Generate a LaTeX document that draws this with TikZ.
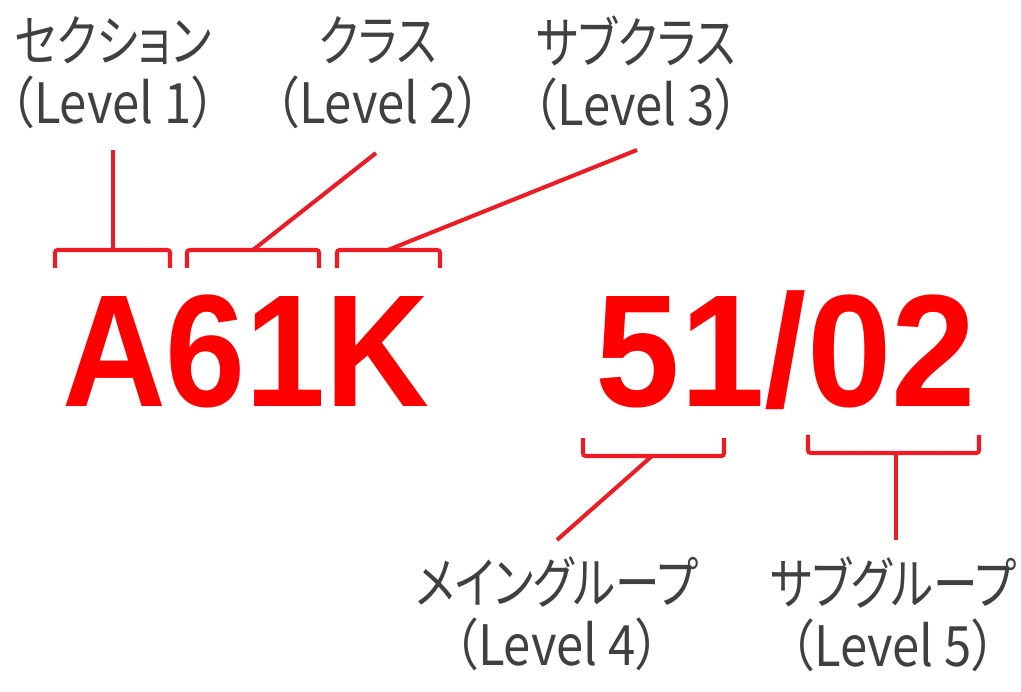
\documentclass[tikz,border=0pt]{standalone}
\usepackage{fontspec}
\setmainfont{Liberation Sans}
\newfontfamily\jpfont[FakeStretch=0.88,RawFeature={+palt}]{Noto Sans CJK JP}
\newfontfamily\kanafont[FakeStretch=0.8,RawFeature={+palt}]{Noto Sans CJK JP}
\newfontfamily\codefont[FakeStretch=0.9]{Liberation Sans Bold}
\newfontfamily\groupfont[FakeStretch=0.95]{Liberation Sans Bold}
\definecolor{linered}{RGB}{237,28,36}
\definecolor{labelgray}{RGB}{64,64,64}
\tikzset{
  level/.style={align=center, text=labelgray, inner sep=0pt,
    font=\jpfont\fontsize{31.7}{35.5}\selectfont},
  code/.style={text=red, inner sep=0pt, anchor=base,
    font=\codefont\fontsize{91}{91}\selectfont},
  brace/.style={draw=linered, line width=2.3pt, rounded corners=1.5pt},
  leader/.style={draw=linered, line width=2.3pt},
}
\begin{document}
\begin{tikzpicture}[x=0.02cm,y=-0.02cm]
  \useasboundingbox (0,0) rectangle (1021,692);
  % symbol
  \node[code] (sym) at (246,407) {A61K};
  \node[code, font=\groupfont\fontsize{91}{91}\selectfont] (grp) at (786,407) {51/02};
  % labels
  \node[level] (sec) at (113,73) {{\kanafont セクション}\\（Level 1）};
  \node[level] (cls) at (378,73) {{\kanafont クラス}\\（Level 2）};
  \node[level] (sub) at (636,73) {{\kanafont サブクラス}\\（Level 3）};
  \node[level] (main) at (557,614) {{\kanafont メイングループ}\\（Level 4）};
  \node[level] (subgrp) at (893,614) {{\kanafont サブグループ}\\（Level 5）};
  % brackets
  \draw[brace] (55,268) |- (170,250) -- (170,268);
  \draw[brace] (187,268) |- (319,250) -- (319,268);
  \draw[brace] (337,268) |- (440,250) -- (440,268);
  \draw[brace] (583,438) |- (724,456) -- (724,438);
  \draw[brace] (808,435) |- (979,453) -- (979,435);
  \coordinate (b1) at (113,250);
  \coordinate (b2) at (253,250);
  \coordinate (b3) at (388,250);
  \coordinate (b4) at (652,456);
  \coordinate (b5) at (896,453);
  \coordinate (t1) at (113,150);
  \coordinate (t2) at (376,153);
  \coordinate (t3) at (637,150);
  \coordinate (t4) at (557,540);
  \coordinate (t5) at (896,540);
  % leaders
  \begin{scope}[leader]
    \draw (t1) -- (b1);
    \draw (t2) -- (b2);
    \draw (t3) -- (b3);
    \draw (t4) -- (b4);
    \draw (t5) -- (b5);
  \end{scope}
\end{tikzpicture}
\end{document}
